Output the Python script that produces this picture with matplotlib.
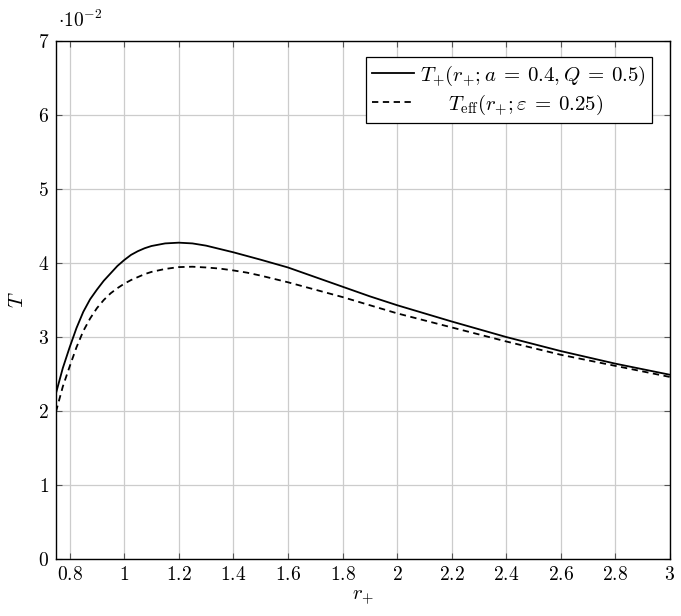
import matplotlib
matplotlib.use("Agg")
import matplotlib.pyplot as plt

plt.rcParams['font.family'] = 'serif'
plt.rcParams['font.serif'] = ['cmr10', 'DejaVu Serif']
plt.rcParams['mathtext.fontset'] = 'cm'
plt.rcParams['axes.unicode_minus'] = False
plt.rcParams['axes.formatter.use_mathtext'] = True

r_plus = [0.75, 0.775, 0.8, 0.825, 0.85, 0.875, 0.9, 0.925, 0.95, 0.975, 1.0, 1.025, 1.05,
          1.075, 1.1, 1.15, 1.2, 1.25, 1.3, 1.35, 1.4, 1.45, 1.5, 1.6, 1.7, 1.8, 1.9, 2.0,
          2.2, 2.4, 2.6, 2.8, 3.0]
T_plus = [2.24, 2.58, 2.86, 3.12, 3.34, 3.51, 3.64, 3.76, 3.86, 3.96, 4.04, 4.11, 4.16,
          4.20, 4.23, 4.265, 4.275, 4.265, 4.235, 4.19, 4.145, 4.095, 4.045, 3.94, 3.81, 3.68,
          3.55, 3.43, 3.21, 3.00, 2.81, 2.64, 2.49]
T_eff = [1.99, 2.33, 2.60, 2.86, 3.08, 3.25, 3.39, 3.50, 3.59, 3.66, 3.72, 3.77, 3.81,
         3.85, 3.88, 3.92, 3.945, 3.95, 3.94, 3.925, 3.90, 3.87, 3.83, 3.74, 3.64, 3.54,
         3.43, 3.32, 3.13, 2.94, 2.76, 2.61, 2.46]

xticks = [0.8, 1.0, 1.2, 1.4, 1.6, 1.8, 2.0, 2.2, 2.4, 2.6, 2.8, 3.0]
xticklabels = ['0.8', '1', '1.2', '1.4', '1.6', '1.8', '2', '2.2', '2.4', '2.6', '2.8', '3']
yticks = [0, 1, 2, 3, 4, 5, 6, 7]

fig = plt.figure(figsize=(6.81, 6.16), dpi=100)
ax = fig.add_axes([0.0822, 0.0925, 0.9016, 0.8409])

ax.plot(r_plus, T_plus, color='black', lw=1.3,
        label=r'$T_{+}(r_{+};a\:=\:0.4,Q\:=\:0.5)$')
ax.plot(r_plus, T_eff, color='black', lw=1.3, ls=(0, (3.5, 2.5)),
        label=r'$\quad\;\; T_{\mathrm{eff}}(r_{+};\varepsilon\:=\:0.25)$')

ax.set_xlim(0.75, 3.0)
ax.set_ylim(0, 7)
ax.set_xticks(xticks)
ax.set_xticklabels(['$%s$' % s for s in xticklabels], fontsize=14)
ax.set_yticks(yticks)
ax.set_yticklabels(['$%d$' % v for v in yticks], fontsize=14)
ax.tick_params(direction='in', top=True, right=True, length=4, width=0.8, color='#555555',
               pad=5)
ax.grid(True, color='#cccccc', lw=0.9)
ax.set_axisbelow(True)
for s in ax.spines.values():
    s.set_linewidth(1.0)

ax.set_xlabel(r'$r_{+}$', fontsize=15, labelpad=3)
ax.set_ylabel(r'$T$', fontsize=15, labelpad=8)
fig.text(0.117, 0.967, r'$\cdot 10^{-2}$', fontsize=14, ha='center', va='center')

leg = ax.legend(loc='upper right', fontsize=15, frameon=True, fancybox=False,
                edgecolor='black', framealpha=1, handlelength=2.0, borderpad=0.3,
                labelspacing=0.2, handletextpad=0.3, borderaxespad=0,
                bbox_to_anchor=(0.971, 0.969))
leg.get_frame().set_linewidth(0.9)

fig.savefig('out.png', dpi=100)
